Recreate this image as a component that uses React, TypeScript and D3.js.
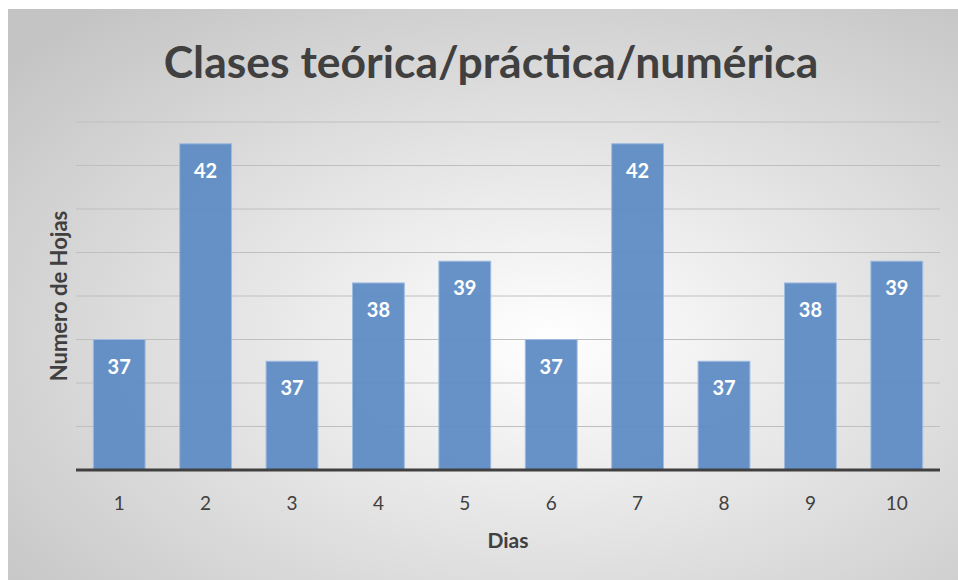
import React from "react";
import * as d3 from "d3";

const categories = ["1", "2", "3", "4", "5", "6", "7", "8", "9", "10"];
const values = [37, 41.5, 36.5, 38.3, 38.8, 37, 41.5, 36.5, 38.3, 38.8];
const labels = ["37", "42", "37", "38", "39", "37", "42", "37", "38", "39"];
const yDomain = [34, 42];
const gridTicks = [35, 36, 37, 38, 39, 40, 41, 42];

const W = 958;
const H = 580;
const FONT = "Lato, 'Open Sans', sans-serif";

export default function App() {
  const left = 76, right = 940, top = 122, bottom = 470;
  const x = d3.scaleBand<string>().domain(categories).range([left, right]).paddingInner(0.4).paddingOuter(0.2);
  const y = d3.scaleLinear().domain(yDomain).range([bottom, top]);
  return (
    <svg width={W} height={H} style={{ position: "absolute", left: 0, top: 0 }}>
      <defs>
        <radialGradient id="bg" cx="57%" cy="58%" r="75%" fx="57%" fy="58%">
          <stop offset="0%" stopColor="#ffffff" />
          <stop offset="100%" stopColor="#c4c4c4" />
        </radialGradient>
      </defs>
      <rect x={8} y={9} width={W - 8} height={H - 9} fill="url(#bg)" />
      <text x={491} y={78} textAnchor="middle" fontFamily={FONT} fontWeight="bold" fontSize={44.5} fill="#404040">
        Clases teórica/práctica/numérica
      </text>
      {gridTicks.map((t) => (
        <line key={t} x1={left} x2={right} y1={y(t)} y2={y(t)} stroke="#bfbfbf" strokeWidth={1.2} />
      ))}
      {values.map((v, i) => (
        <g key={i}>
          <rect
            x={x(categories[i])!}
            y={y(v)}
            width={x.bandwidth()}
            height={bottom - y(v)}
            fill="#5f8cc4"
            fillOpacity={0.95}
            stroke="#9fbbe0"
            strokeWidth={1}
          />
          <text
            x={x(categories[i])! + x.bandwidth() / 2}
            y={y(v) + 34}
            textAnchor="middle"
            fontFamily={FONT}
            fontWeight="bold"
            fontSize={20}
            fill="#ffffff"
          >
            {labels[i]}
          </text>
          <text
            x={x(categories[i])! + x.bandwidth() / 2}
            y={510}
            textAnchor="middle"
            fontFamily={FONT}
            fontSize={19}
            fill="#404040"
          >
            {categories[i]}
          </text>
        </g>
      ))}
      <line x1={left} x2={right} y1={bottom} y2={bottom} stroke="#404040" strokeWidth={3} />
      <text x={508} y={548} textAnchor="middle" fontFamily={FONT} fontWeight="bold" fontSize={21} fill="#404040">
        Dias
      </text>
      <text
        transform={`translate(67,${296}) rotate(-90)`}
        textAnchor="middle"
        fontFamily={FONT}
        fontWeight="bold"
        fontSize={22}
        fill="#404040"
      >
        Numero de Hojas
      </text>
    </svg>
  );
}
